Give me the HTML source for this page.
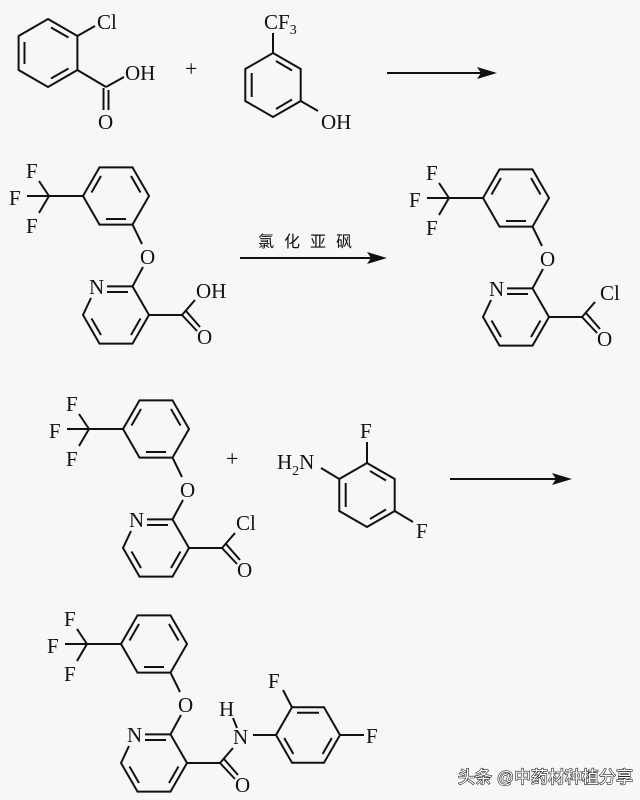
<!DOCTYPE html>
<html><head><meta charset="utf-8"><style>
html,body{margin:0;padding:0;background:#f7f7f7;}
svg{display:block;}
text{font-family:"Liberation Serif","Noto Serif CJK SC",serif;font-size:21px;fill:#111;}
.cn{font-family:"Liberation Sans","Noto Sans CJK SC",sans-serif;font-size:16px;}
</style></head><body>
<svg width="640" height="800" viewBox="0 0 640 800" xmlns="http://www.w3.org/2000/svg">
<defs>
<g id="phenoxy" stroke="#111" stroke-width="2" fill="none">
  <polygon points="99.5,167.4 132.5,167.4 149,196 132.5,224.6 99.5,224.6 83,196"/>
  <line x1="131" y1="176" x2="140.5" y2="192.5"/>
  <line x1="126" y1="219" x2="106" y2="219"/>
  <line x1="91.5" y1="192.5" x2="101" y2="176"/>
  <line x1="83" y1="196" x2="49" y2="196"/>
  <line x1="49" y1="196" x2="39" y2="181"/>
  <line x1="49" y1="196" x2="27" y2="196"/>
  <line x1="49" y1="196" x2="39" y2="213"/>
  <line x1="132.5" y1="224.6" x2="142" y2="244"/>
  <line x1="143" y1="267" x2="132.5" y2="286.4"/>
  <polyline points="107,286.4 132.5,286.4 149,315 132.5,343.6 99.5,343.6 83,315 91,298"/>
  <line x1="107" y1="292" x2="128" y2="292"/>
  <line x1="140.5" y1="318.5" x2="131" y2="335"/>
  <line x1="101" y1="335" x2="91.5" y2="318.5"/>
  <line x1="149" y1="315" x2="182" y2="315"/>
  <line x1="182" y1="315" x2="195" y2="300"/>
  <line x1="182" y1="315" x2="197" y2="331"/>
  <line x1="186" y1="311" x2="200" y2="327"/>
</g>
<g id="phenoxyText">
  <text x="26" y="178">F</text>
  <text x="9" y="205">F</text>
  <text x="26" y="233">F</text>
  <text x="140" y="264">O</text>
  <text x="89" y="294">N</text>
  <text x="197" y="344">O</text>
</g>
</defs>

<g stroke="#111" stroke-width="2" fill="none">
  <polygon points="48,19 77.4,36 77.4,70 48,87 18.6,70 18.6,36"/>
  <line x1="51" y1="27.5" x2="68.5" y2="37.5"/>
  <line x1="68.5" y1="68.5" x2="51" y2="78.5"/>
  <line x1="24.5" y1="42" x2="24.5" y2="64"/>
  <line x1="77.4" y1="36" x2="95" y2="26"/>
  <line x1="77.4" y1="70" x2="106" y2="87"/>
  <line x1="106" y1="87" x2="124" y2="77"/>
  <line x1="103.5" y1="88" x2="103.5" y2="110"/>
  <line x1="108.5" y1="90" x2="108.5" y2="110"/>
</g>
<text x="97" y="29">Cl</text>
<text x="125" y="80">OH</text>
<text x="98" y="129">O</text>
<text x="185" y="76" style="font-size:22px">+</text>

<g stroke="#111" stroke-width="2" fill="none">
  <polygon points="273,53 300.7,69 300.7,101 273,117 245.3,101 245.3,69"/>
  <line x1="276" y1="61" x2="292" y2="70.5"/>
  <line x1="292" y1="99.5" x2="276" y2="109"/>
  <line x1="251.7" y1="73" x2="251.7" y2="97"/>
  <line x1="273" y1="53" x2="273" y2="33"/>
  <line x1="300.7" y1="101" x2="318" y2="111"/>
</g>
<text x="264" y="29">CF<tspan style="font-size:14px" dy="5">3</tspan></text>
<text x="321" y="129">OH</text>

<line x1="387" y1="73" x2="488" y2="73" stroke="#111" stroke-width="2"/>
<polygon points="497,73 477,67 481,73 477,79" fill="#111"/>

<use href="#phenoxy"/>
<use href="#phenoxyText"/>
<text x="196" y="298">OH</text>

<text class="cn" x="258" y="247" style="letter-spacing:10px">氯化亚砜</text>
<line x1="240" y1="258" x2="378" y2="258" stroke="#111" stroke-width="2"/>
<polygon points="387,258 367,252 371,258 367,264" fill="#111"/>

<g transform="translate(400,2)">
  <use href="#phenoxy"/>
  <use href="#phenoxyText"/>
  <text x="200" y="298">Cl</text>
</g>

<g transform="translate(40,233)">
  <use href="#phenoxy"/>
  <use href="#phenoxyText"/>
  <text x="196" y="297">Cl</text>
</g>
<text x="226" y="466" style="font-size:22px">+</text>

<g stroke="#111" stroke-width="2" fill="none">
  <polygon points="367,463 394.7,479 394.7,511 367,527 339.3,511 339.3,479"/>
  <line x1="345.7" y1="483" x2="345.7" y2="507"/>
  <line x1="370" y1="471" x2="386" y2="480.5"/>
  <line x1="386" y1="509.5" x2="370" y2="519"/>
  <line x1="367" y1="463" x2="367" y2="442"/>
  <line x1="394.7" y1="511" x2="413" y2="522"/>
  <line x1="339.3" y1="479" x2="321" y2="468"/>
</g>
<text x="360" y="438">F</text>
<text x="416" y="538">F</text>
<text x="277" y="469">H<tspan style="font-size:14px" dy="6">2</tspan><tspan dy="-6">N</tspan></text>

<line x1="450" y1="479" x2="563" y2="479" stroke="#111" stroke-width="2"/>
<polygon points="572,479 552,473 556,479 552,485" fill="#111"/>

<g transform="translate(38,448)">
  <use href="#phenoxy"/>
  <use href="#phenoxyText"/>
  <text x="195" y="296">N</text>
  <text x="181" y="268">H</text>
  <line x1="195" y1="270" x2="199" y2="280" stroke="#111" stroke-width="2"/>
</g>
<g stroke="#111" stroke-width="2" fill="none">
  <polygon points="292,707.3 324,707.3 340,735 324,762.7 292,762.7 276,735"/>
  <line x1="297" y1="712.8" x2="319" y2="712.8"/>
  <line x1="331.8" y1="738" x2="322.6" y2="754"/>
  <line x1="293.4" y1="754" x2="284.2" y2="738"/>
  <line x1="253" y1="735" x2="276" y2="735"/>
  <line x1="292" y1="707.3" x2="283" y2="690"/>
  <line x1="340" y1="735" x2="364" y2="735"/>
</g>
<text x="268" y="688">F</text>
<text x="366" y="743">F</text>

<text class="cn" x="458" y="783" style="fill:#fff;stroke:#222;stroke-width:1.2;paint-order:stroke;font-size:17px">头条 @中药材种植分享</text>
</svg>
</body></html>
